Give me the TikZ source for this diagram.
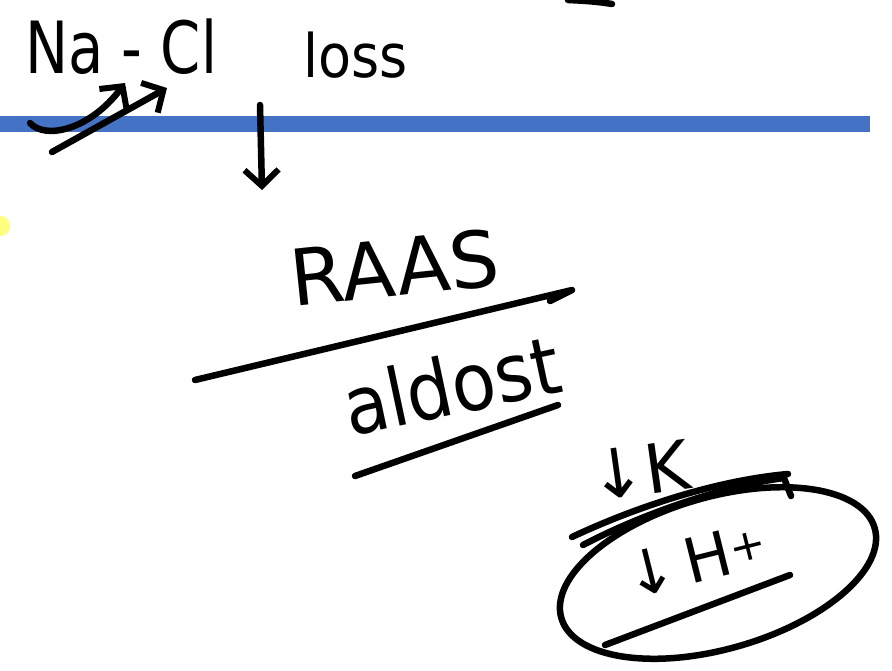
\documentclass[tikz,border=0pt]{standalone}
\usepackage{fontspec}
\setmainfont{DejaVu Sans}
\usetikzlibrary{arrows.meta}
\definecolor{barblue}{HTML}{4472C4}
\definecolor{hilite}{HTML}{FFFF7F}
\tikzset{
  ink/.style={draw=black, line width=6.5pt, line cap=round, line join=round},
  hand/.style={inner sep=0pt, text=black, anchor=base west},
  barb/.style={-{Straight Barb[length=16pt,width=34pt,line width=6pt]}}
}
\begin{document}
\begin{tikzpicture}[x=1pt,y=-1pt]
\useasboundingbox (0,0) rectangle (892,670);
% blue separator bar
\fill[barblue] (0,116) rectangle (870,132);
% yellow highlight dot at left edge
\fill[hilite] (0,226) circle (10);
% stroke fragment at top
\draw[ink] (568,0) .. controls (590,1) and (600,2) .. (612,4);
% texts
\node[hand, font=\fontsize{72}{72}\selectfont] (nacl) at (25,73) {\scalebox{0.8}[1]{Na - Cl}};
\node[hand, font=\fontsize{60}{60}\selectfont] (loss) at (303,77) {\scalebox{0.9}[1]{loss}};
\node[hand, font=\fontsize{78}{78}\selectfont, rotate=6] (raas) at (293,307) {RAAS};
\node[hand, font=\fontsize{80}{80}\selectfont, rotate=12] (aldost) at (350,437) {\scalebox{0.9}[1]{aldost}};
\node[hand, font=\fontsize{68}{68}\selectfont, rotate=8] (k) at (592,502) {↓K};
\node[hand, font=\fontsize{62}{62}\selectfont, rotate=14] (h) at (630,600) {↓\,H\textsuperscript{+}};
% arrows under Na-Cl
\coordinate (a1s) at (30,123);
\coordinate (a1e) at (125,83);
\draw[ink, barb] (a1s) .. controls (45,140) and (90,130) .. (a1e);
\coordinate (a2s) at (52,152);
\coordinate (a2e) at (167,88);
\draw[ink, barb] (a2s) -- (a2e);
% down arrow from loss
\coordinate (d1) at (260,105);
\coordinate (d2) at (262,190);
\draw[ink, barb] (d1) -- (d2);
% long fraction line under RAAS
\coordinate (f1) at (195,380);
\coordinate (f2) at (572,290);
\draw[ink] (f1) -- (f2) -- (550,301);
% underline aldost
\coordinate (u1) at (355,476);
\coordinate (u2) at (558,405);
\draw[ink] (u1) -- (u2);
% double strokes under K
\coordinate (s1) at (572,537);
\coordinate (s2) at (788,474);
\draw[ink] (s1) .. controls (640,505) and (720,480) .. (s2);
\coordinate (t1) at (583,545);
\coordinate (t2) at (791,496);
\draw[ink] (t1) .. controls (650,510) and (730,485) .. (784,478) -- (t2);
% underline H+
\coordinate (v1) at (605,645);
\coordinate (v2) at (790,575);
\draw[ink] (v1) -- (v2);
% ellipse
\coordinate (ec) at (718,573);
\draw[ink] (ec) [rotate around={16:(ec)}] ellipse [x radius=163, y radius=76];
\end{tikzpicture}
\end{document}
